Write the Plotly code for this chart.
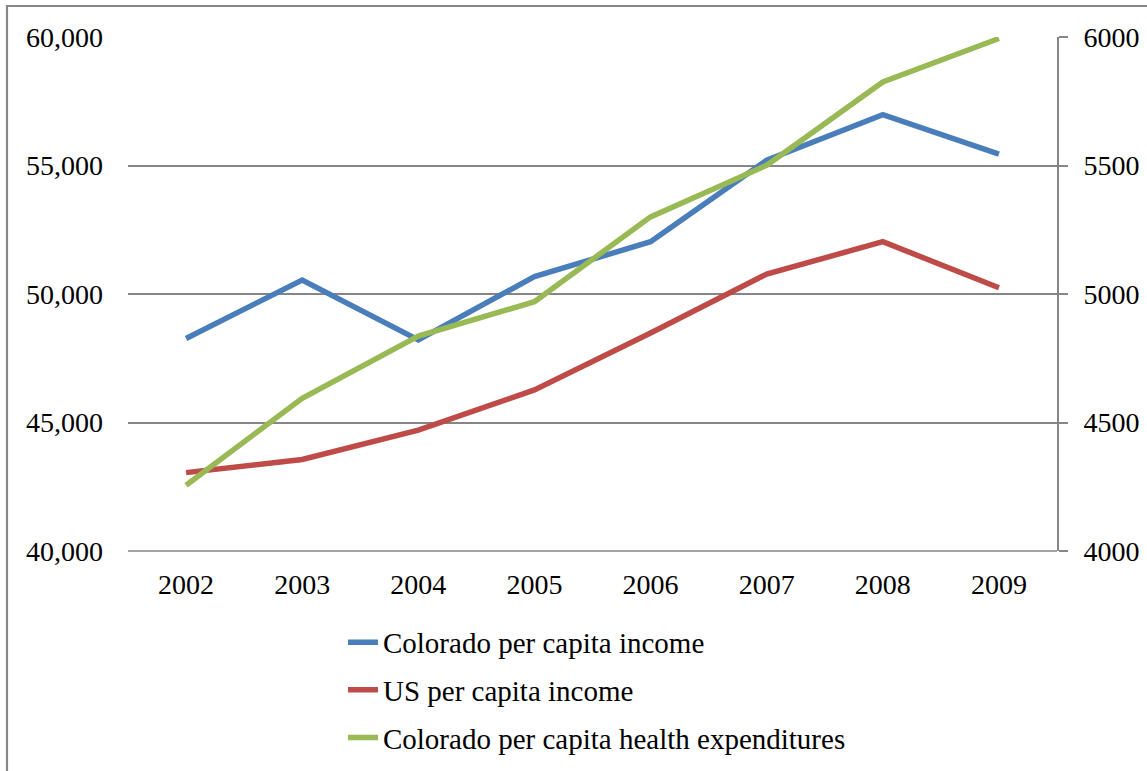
import plotly.graph_objects as go

# Per-capita figures, 2002-2009
years = ["2002", "2003", "2004", "2005", "2006", "2007", "2008", "2009"]
colorado_income = [48270, 50545, 48210, 50675, 52035, 55205, 56980, 55440]
us_income = [43050, 43560, 44700, 46270, 48480, 50775, 52035, 50245]
colorado_health = [4256, 4594, 4836, 4970, 5300, 5501, 5825, 5994]

left_ticks = [40000, 45000, 50000, 55000, 60000]
right_ticks = [4000, 4500, 5000, 5500, 6000]

FONT = "Liberation Serif"
GRID = "#868686"

fig = go.Figure()

fig.add_trace(go.Scatter(
    x=years, y=colorado_income, name="Colorado per capita income",
    mode="lines", line=dict(color="#4A7EBB", width=5.5),
    legendgroup="a",
))
fig.add_trace(go.Scatter(
    x=years, y=us_income, name="US per capita income",
    mode="lines", line=dict(color="#BE4B48", width=5.5),
    legendgroup="b",
))
fig.add_trace(go.Scatter(
    x=years, y=colorado_health, name="Colorado per capita health expenditures",
    mode="lines", line=dict(color="#98B954", width=5.5),
    yaxis="y2", legendgroup="c",
))

fig.update_layout(
    width=1147, height=771,
    margin=dict(l=128, r=90, t=37, b=220, autoexpand=False),
    paper_bgcolor="white", plot_bgcolor="white",
    font=dict(family=FONT, size=28, color="black"),
    showlegend=True,
    legend=dict(
        x=0.2314, xanchor="left", y=-0.128, yanchor="top",
        font=dict(family=FONT, size=29, color="black"),
        traceorder="grouped", tracegroupgap=7,
        bgcolor="rgba(0,0,0,0)",
    ),
    xaxis=dict(
        type="category", range=[-0.5, 7.5], showgrid=False, zeroline=False,
        showline=False, ticks="", ticklabelstandoff=14, automargin=False,
        tickfont=dict(family=FONT, size=28),
    ),
    yaxis=dict(
        range=[40000, 60000], tickvals=left_ticks,
        ticktext=[f"{v:,}" for v in left_ticks],
        showgrid=True, gridcolor=GRID, gridwidth=1.6,
        zeroline=False, showline=False, ticks="", automargin=False,
        ticklabelstandoff=24,
        tickfont=dict(family=FONT, size=28),
    ),
    yaxis2=dict(
        range=[4000, 6000], tickvals=right_ticks,
        ticktext=[str(v) for v in right_ticks],
        overlaying="y", side="right", showgrid=False, zeroline=False,
        showline=True, linecolor=GRID, linewidth=1.6, automargin=False,
        ticks="outside", ticklen=9, tickwidth=1.6, tickcolor=GRID,
        ticklabelstandoff=10,
        tickfont=dict(family=FONT, size=28),
    ),
    shapes=[
        # chart area border (left and top edges fall inside the page)
        dict(type="rect", xref="paper", yref="paper",
             x0=(7 - 128) / 929, x1=(1200 - 128) / 929,
             y0=(551 - 830) / 514, y1=(551 - 6) / 514,
             line=dict(color=GRID, width=2.2), layer="below"),
        # category axis baseline
        dict(type="line", xref="paper", yref="paper",
             x0=0, x1=1, y0=0, y1=0,
             line=dict(color=GRID, width=1.6), layer="below"),
    ],
)

fig.write_html("out.html")
